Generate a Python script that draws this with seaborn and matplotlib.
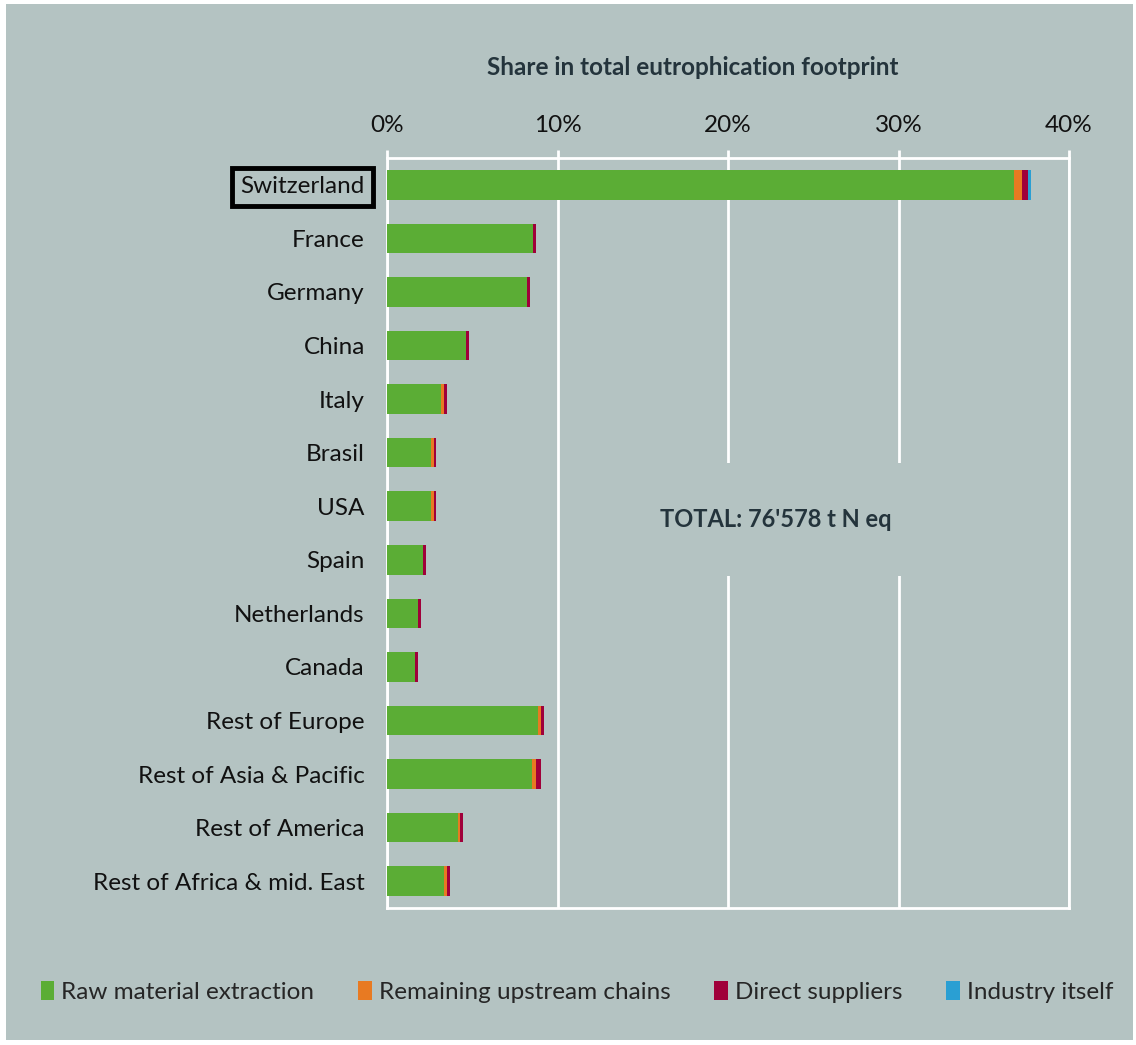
import numpy as np
import pandas as pd
import matplotlib.pyplot as plt
import matplotlib.patches as mpatches
import seaborn as sns

# Data (share in %)
countries = ["Switzerland", "France", "Germany", "China", "Italy", "Brasil", "USA",
             "Spain", "Netherlands", "Canada", "Rest of Europe",
             "Rest of Asia & Pacific", "Rest of America", "Rest of Africa & mid. East"]
raw_material = [36.8, 8.55, 8.2, 4.63, 3.19, 2.58, 2.58, 2.11, 1.8, 1.64, 8.86, 8.53, 4.16, 3.35]
upstream = [0.47, 0.0, 0.0, 0.0, 0.18, 0.15, 0.15, 0.0, 0.03, 0.0, 0.16, 0.18, 0.15, 0.15]
direct = [0.3, 0.17, 0.18, 0.17, 0.16, 0.15, 0.15, 0.16, 0.17, 0.16, 0.16, 0.31, 0.15, 0.17]
industry = [0.18, 0, 0, 0, 0, 0, 0, 0, 0, 0, 0, 0, 0, 0]

series = ["Raw material extraction", "Remaining upstream chains", "Direct suppliers", "Industry itself"]
colors = ["#5BAD35", "#E87A22", "#A0003A", "#2A9FD3"]
bg = "#B4C3C2"

df = pd.DataFrame({"country": countries, "Raw material extraction": raw_material,
                   "Remaining upstream chains": upstream, "Direct suppliers": direct,
                   "Industry itself": industry})
cum = df[series].cumsum(axis=1)

sns.set_theme(style="white")
plt.rcParams["font.family"] = ["Lato", "DejaVu Sans"]

fig = plt.figure(figsize=(11.36, 10.45), dpi=100)
fig.patch.set_facecolor("white")
fig.patches.append(mpatches.Rectangle((6 / 1136, 5 / 1045), 1127 / 1136, 1036 / 1045,
                                      transform=fig.transFigure, facecolor=bg,
                                      edgecolor="none", zorder=-1))
ax = fig.add_axes([387 / 1136, 1 - 908 / 1045, 682 / 1136, 750 / 1045])
ax.set_facecolor(bg)

# stacked bars: draw cumulative totals from the largest down
for s, c in reversed(list(zip(series, colors))):
    sns.barplot(x=cum[s], y=df["country"], orient="h", color=c, width=0.55,
                saturation=1, linewidth=0, edgecolor="none", ax=ax, zorder=3)

ax.set_xlim(0, 40)
ax.set_ylim(13.5, -0.5)
ax.xaxis.tick_top()
ax.set_xticks([0, 10, 20, 30, 40])
ax.set_xticklabels([f"{v}%" for v in [0, 10, 20, 30, 40]], fontsize=17.5, color="#111111")
ax.tick_params(axis="x", which="major", direction="out", length=6, width=2,
               color="white", pad=10)
ax.set_xlabel("")
ax.set_ylabel("")
ax.tick_params(axis="y", which="major", length=0, pad=16, labelsize=17.5, labelcolor="#111111")
ax.set_yticks(np.arange(-0.5, 14, 1), minor=True)
ax.tick_params(axis="y", which="minor", length=8, width=1.5, color="white")
ax.grid(axis="x", color="white", linewidth=2, zorder=1)
ax.set_axisbelow(True)
for sp in ax.spines.values():
    sp.set_visible(True)
    sp.set_color("white")
    sp.set_linewidth(2)

# box around Switzerland label
lab = ax.get_yticklabels()[0]
lab.set_bbox(dict(boxstyle="square,pad=0.35", fc="none", ec="black", lw=3.5))

ax.text(22.8, 6.25, "TOTAL: 76'578 t N eq", fontsize=17, fontweight="bold",
        color="#24343C", ha="center", va="center", zorder=4,
        bbox=dict(boxstyle="square,pad=1.9", fc=bg, ec="none"))

fig.text(693 / 1136, 1 - 68 / 1045, "Share in total eutrophication footprint",
         fontsize=17.5, fontweight="bold", color="#24343C", ha="center", va="center")

handles = [mpatches.Patch(facecolor=c, edgecolor="none", label=s) for s, c in zip(series, colors)]
fig.legend(handles=handles, loc="center", bbox_to_anchor=(0.508, 1 - 992 / 1045), ncol=4,
           frameon=False, fontsize=17.5, handlelength=0.55, handleheight=0.8,
           handletextpad=0.3, columnspacing=1.8)

fig.savefig("out.png", dpi=100, facecolor=fig.get_facecolor())
